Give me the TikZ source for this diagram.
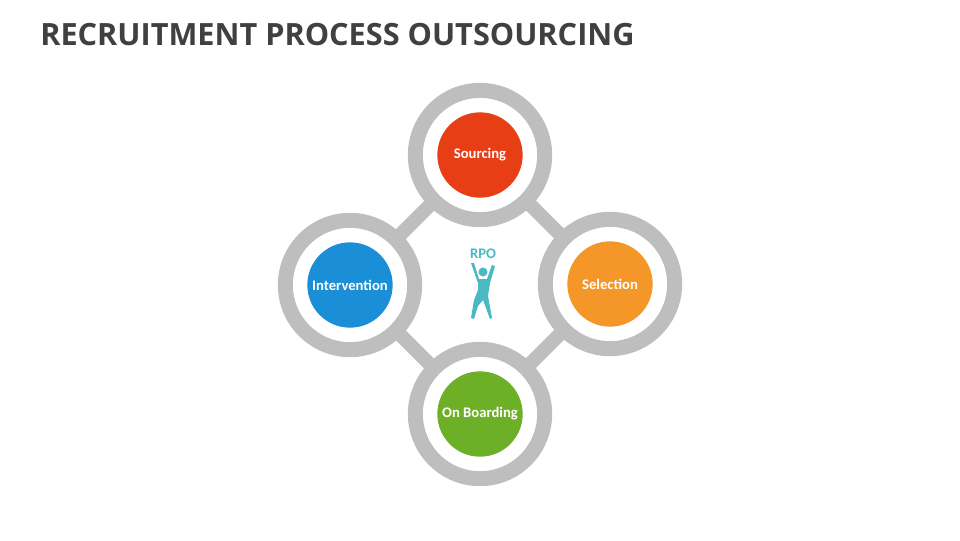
\documentclass[tikz,border=0pt]{standalone}
\usepackage{fontspec}
\setmainfont{Carlito}
\newfontfamily\titlefont{Open Sans}
\definecolor{ringgray}{RGB}{190,190,190}
\definecolor{tealc}{RGB}{75,185,195}
\definecolor{cred}{RGB}{232,62,22}
\definecolor{cblue}{RGB}{26,143,216}
\definecolor{corange}{RGB}{245,150,40}
\definecolor{cgreen}{RGB}{110,175,40}
\begin{document}
\begin{tikzpicture}[x=0.75pt,y=-0.75pt,
 ring/.style={circle,draw=ringgray,line width=11.25pt,fill=white,minimum size=97pt,inner sep=0pt},
 dot/.style={circle,fill=#1,minimum size=64pt,inner sep=0pt,text=white,font=\bfseries\fontsize{11}{12}\selectfont},
 link/.style={draw=ringgray,line width=10.5pt}]
\useasboundingbox (0,0) rectangle (960,540);
\node[anchor=west,inner sep=0pt,font=\titlefont\bfseries\fontsize{23}{25}\selectfont,text=black!75] (title) at (40,35) {RECRUITMENT PROCESS OUTSOURCING};
\coordinate (T) at (480,155); \coordinate (L) at (350,285);
\coordinate (R) at (610,284); \coordinate (B) at (480,414);
\path[link] (T) -- (R) -- (B) -- (L) -- cycle;
\foreach \p in {T,L,R,B} \node[ring] (r\p) at (\p) {};
\node[dot=cred] (s) at (T) {Sourcing};
\node[dot=cblue] (i) at (L) {Intervention};
\node[dot=corange] (se) at (R) {Selection};
\node[dot=cgreen] (o) at (B) {On Boarding};
\node[text=tealc,font=\bfseries\fontsize{11}{12}\selectfont] (rpo) at (483,254) {RPO};
\fill[tealc] (483,272) circle (4.5);
\fill[tealc] (471,263) -- (474,263) -- (479,279) -- (487,279) -- (492,265) -- (495,266) -- (490,283)
 -- (488,296) -- (492,318) -- (490,319) -- (483,300) -- (478,306) -- (474,319) -- (471,318)
 -- (474,300) -- (478,290) -- (478,283) -- cycle;
\end{tikzpicture}
\end{document}
